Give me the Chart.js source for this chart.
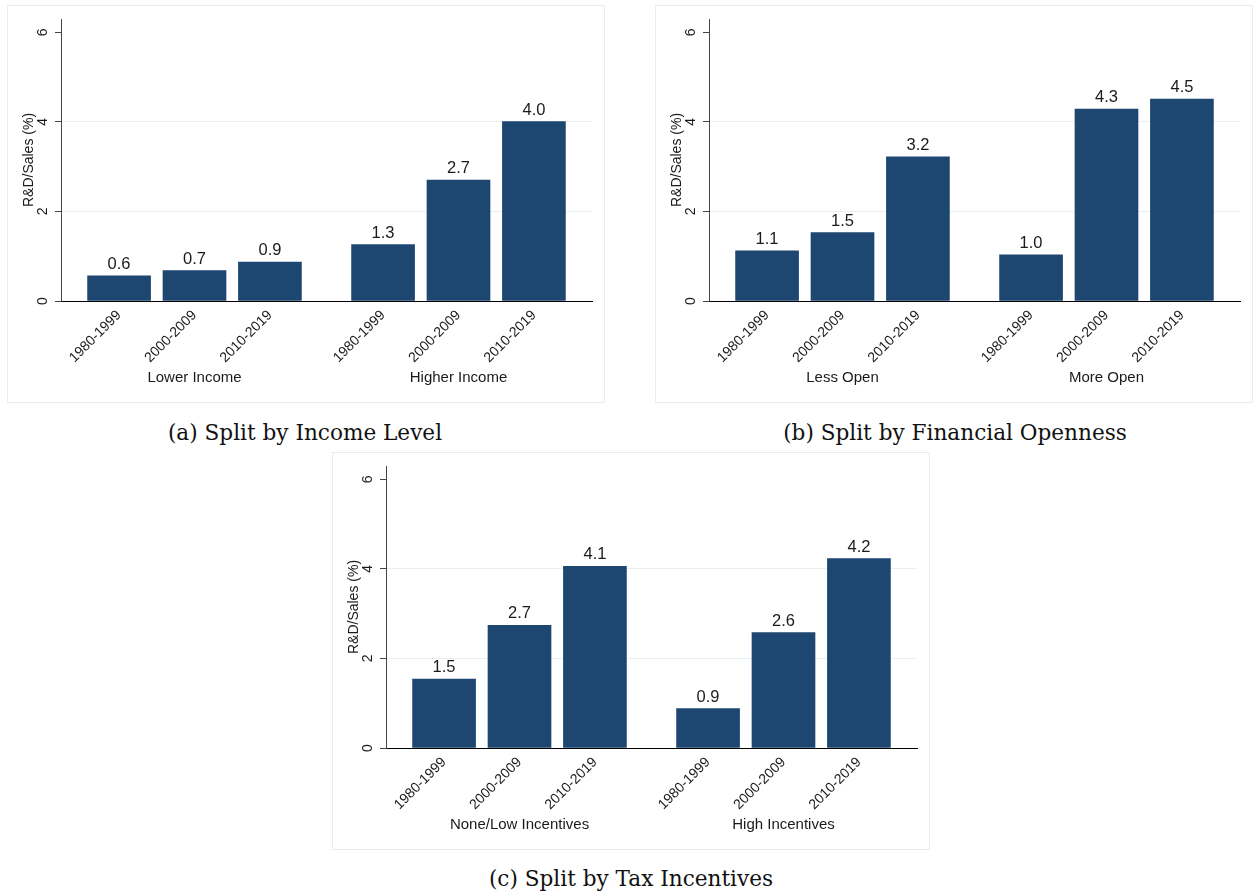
<!DOCTYPE html>
<html>
<head>
<meta charset="utf-8">
<script src="https://cdn.jsdelivr.net/npm/chart.js@4.4.1/dist/chart.umd.min.js"></script>
<style>
  body { margin: 0; background: #fff; }
  #page { position: relative; width: 1253px; height: 895px; overflow: hidden; }
  .panel { position: absolute; border: 1px solid #e6edef; background: #fff; }
  .panel canvas { display: block; }
  .caption {
    position: absolute; width: 500px; text-align: center;
    font-family: "DejaVu Serif", "Liberation Serif", serif; font-size: 21.6px; color: #111;
    line-height: 24px;
  }
</style>
</head>
<body>
<div id="page">
  <div class="panel" style="left:7px; top:5px;"><canvas id="chartA" width="596" height="396"></canvas></div>
  <div class="panel" style="left:655px; top:5px;"><canvas id="chartB" width="596" height="396"></canvas></div>
  <div class="panel" style="left:332px; top:452px;"><canvas id="chartC" width="596" height="396"></canvas></div>
  <div class="caption" style="left:55px; top:421px;">(a) Split by Income Level</div>
  <div class="caption" style="left:705px; top:421px;">(b) Split by Financial Openness</div>
  <div class="caption" style="left:381px; top:867px;">(c) Split by Tax Incentives</div>
</div>
<script>
// periods shown inside every group
var periods = ['1980-1999', '2000-2009', '2010-2019'];
var yTicks = [0, 2, 4, 6];

// (a) income level
var incomeGroups = ['Lower Income', 'Higher Income'];
var incomeValues = [0.56, 0.68, 0.87, 1.26, 2.70, 4.01];

// (b) financial openness
var opennessGroups = ['Less Open', 'More Open'];
var opennessValues = [1.12, 1.53, 3.22, 1.03, 4.29, 4.51];

// (c) tax incentives
var taxGroups = ['None/Low Incentives', 'High Incentives'];
var taxValues = [1.54, 2.74, 4.06, 0.88, 2.58, 4.23];

var barColor = '#1d4670';
var textColor = '#1a1a1a';
var sans = '"Liberation Sans", Arial, sans-serif';
var groupStep = 3.5; // distance between first bars of two groups, in slots

function slotPos(i) {
    var g = Math.floor(i / periods.length);
    var p = i % periods.length;
    return 1 + p + g * groupStep;
}

// value labels above each bar
var valueLabels = {
    id: 'valueLabels',
    afterDatasetsDraw: function(chart) {
        var ctx = chart.ctx;
        var meta = chart.getDatasetMeta(0);
        ctx.save();
        ctx.font = '16.5px ' + sans;
        ctx.fillStyle = textColor;
        ctx.textAlign = 'center';
        ctx.textBaseline = 'alphabetic';
        meta.data.forEach(function(bar, i) {
            var v = chart.data.datasets[0].data[i].y;
            ctx.fillText(v.toFixed(1), bar.x, bar.y - 7);
        });
        ctx.restore();
    }
};

// rotated y tick labels and group names under the axis
var extraText = {
    id: 'extraText',
    afterDraw: function(chart) {
        var ctx = chart.ctx;
        var y = chart.scales.y;
        var x = chart.scales.x;
        ctx.save();
        ctx.fillStyle = textColor;
        ctx.font = '14px ' + sans;
        ctx.textAlign = 'center';
        ctx.textBaseline = 'middle';
        yTicks.forEach(function(t) {
            ctx.save();
            ctx.translate(35, y.getPixelForValue(t));
            ctx.rotate(-Math.PI / 2);
            ctx.fillText(String(t), 0, 0);
            ctx.restore();
        });
        ctx.font = '15px ' + sans;
        var groups = chart.options.groupNames;
        groups.forEach(function(name, g) {
            var mid = slotPos(g * periods.length + 1);
            ctx.fillText(name, x.getPixelForValue(mid), 372);
        });
        ctx.restore();
    }
};

function makeChart(id, groups, values) {
    var ctx = document.getElementById(id).getContext('2d');
    var points = values.map(function(v, i) { return { x: slotPos(i), y: v }; });
    var positions = values.map(function(v, i) { return slotPos(i); });
    var last = slotPos(values.length - 1);

    return new Chart(ctx, {
        type: 'bar',
        data: {
            datasets: [{
                data: points,
                backgroundColor: barColor,
                borderWidth: 0,
                barThickness: 63
            }]
        },
        plugins: [valueLabels, extraText],
        options: {
            groupNames: groups,
            responsive: false,
            animation: false,
            devicePixelRatio: 1,
            layout: { padding: { top: 13, right: 12, left: 0, bottom: 0 } },
            plugins: { legend: { display: false }, tooltip: { enabled: false } },
            scales: {
                x: {
                    type: 'linear',
                    offset: false,
                    min: 0.23,
                    max: last + 0.77,
                    afterBuildTicks: function(scale) {
                        scale.ticks = positions.map(function(p) { return { value: p }; });
                    },
                    afterFit: function(scale) { scale.height = 101; },
                    grid: { display: false, offset: false },
                    border: { color: '#000', width: 1 },
                    ticks: {
                        autoSkip: false,
                        minRotation: 45,
                        maxRotation: 45,
                        padding: -2,
                        color: textColor,
                        font: { family: sans, size: 14 },
                        callback: function(value) {
                            var i = positions.indexOf(value);
                            return i < 0 ? '' : periods[i % periods.length];
                        }
                    }
                },
                y: {
                    min: 0,
                    max: 6.3,
                    afterBuildTicks: function(scale) {
                        scale.ticks = yTicks.map(function(t) { return { value: t }; });
                    },
                    afterFit: function(scale) { scale.width = 53; },
                    grid: {
                        color: function(c) {
                            var v = c.tick && c.tick.value;
                            return (v === 2 || v === 4) ? '#e8eff1' : 'rgba(0,0,0,0)';
                        },
                        drawTicks: true,
                        tickLength: 6,
                        tickColor: '#444'
                    },
                    border: { color: '#444', width: 1 },
                    ticks: { display: false },
                    title: {
                        display: true,
                        text: 'R&D/Sales (%)',
                        color: textColor,
                        font: { family: sans, size: 14 },
                        padding: { top: 13, bottom: 0 }
                    }
                }
            }
        }
    });
}

makeChart('chartA', incomeGroups, incomeValues);
makeChart('chartB', opennessGroups, opennessValues);
makeChart('chartC', taxGroups, taxValues);
</script>
</body>
</html>
